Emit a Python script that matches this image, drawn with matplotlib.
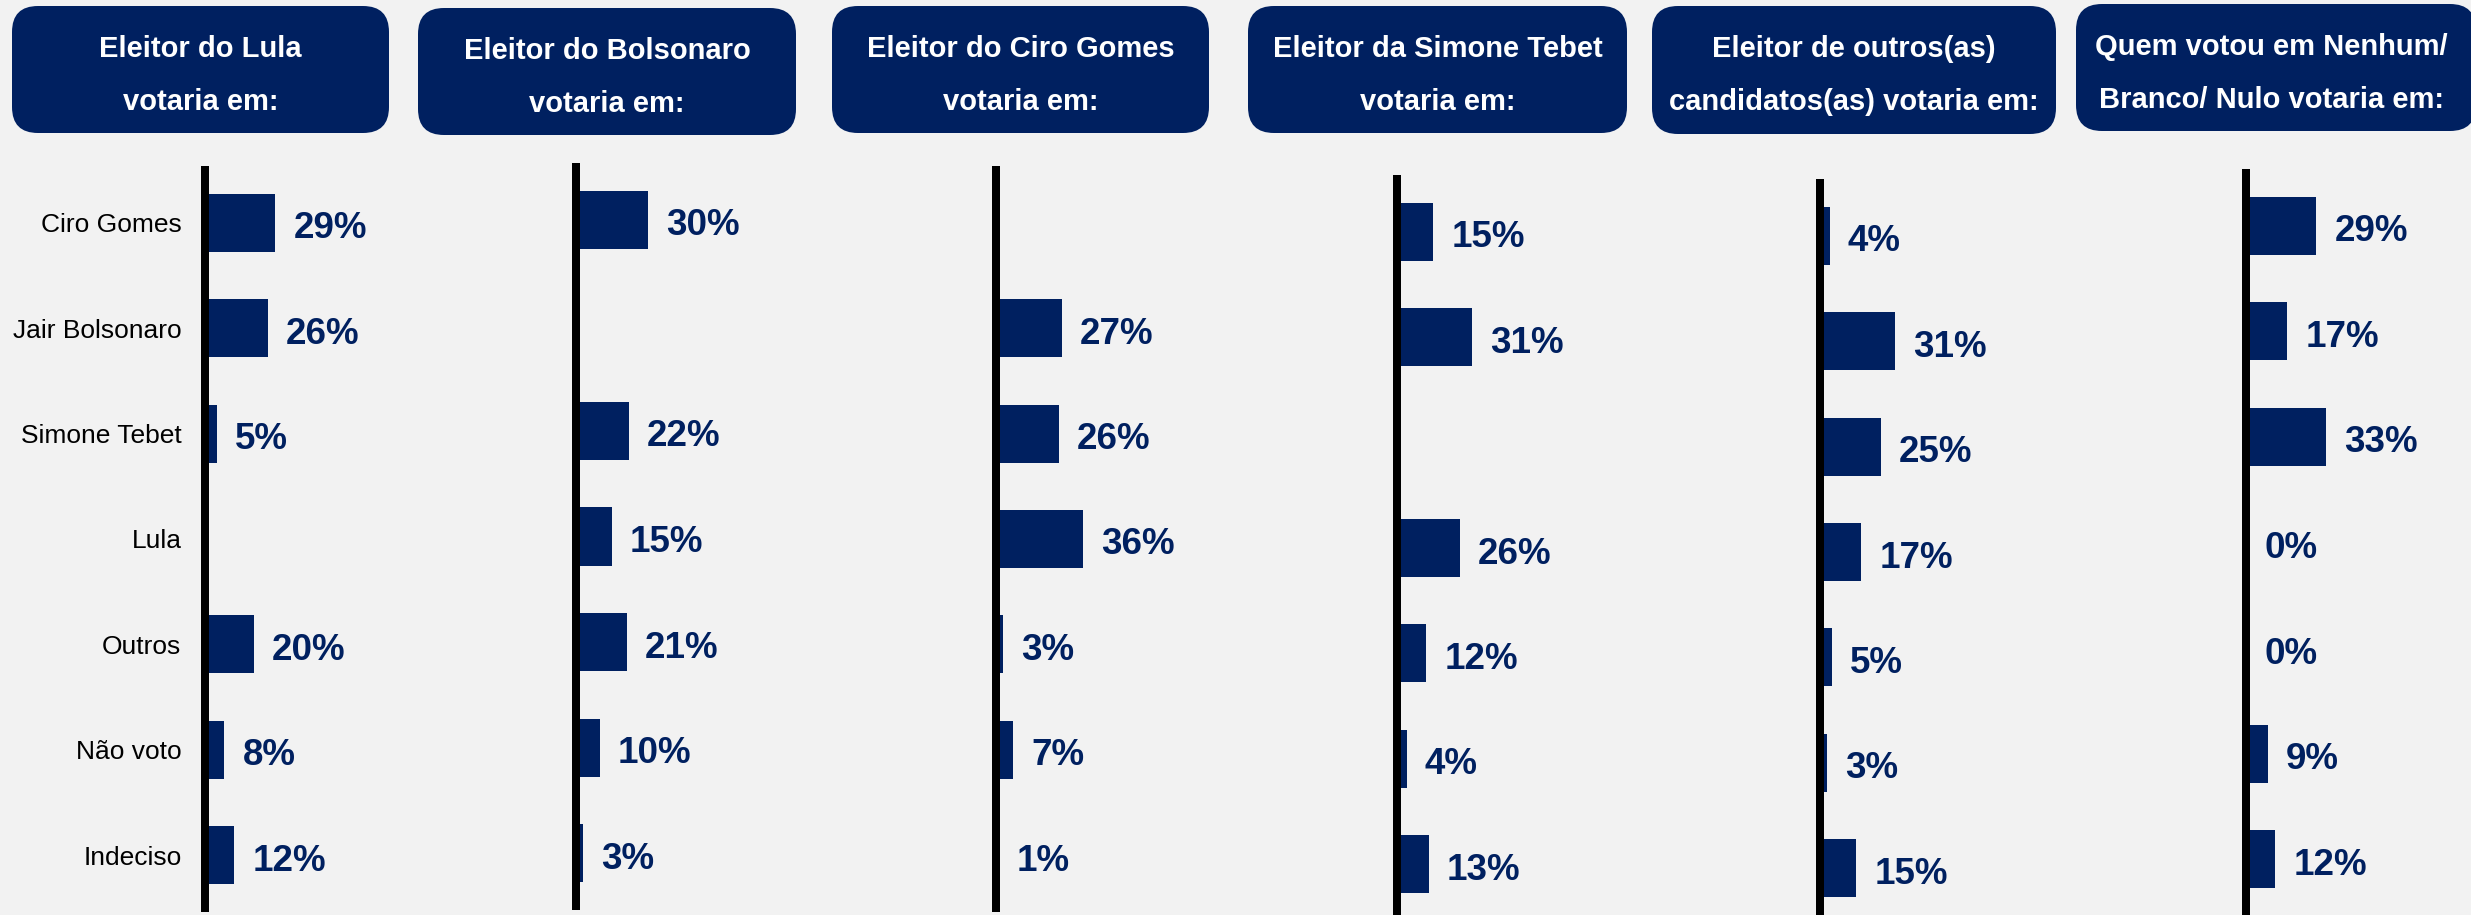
import matplotlib
matplotlib.use("Agg")
import matplotlib.pyplot as plt
import numpy as np
from matplotlib.patches import FancyBboxPatch

NAVY = "#002060"
BG = "#f2f2f2"
plt.rcParams["font.family"] = ["Liberation Sans", "DejaVu Sans"]

categories = ["Ciro Gomes", "Jair Bolsonaro", "Simone Tebet", "Lula",
              "Outros", "Não voto", "Indeciso"]

headers = [
    ("Eleitor do Lula", "votaria em:"),
    ("Eleitor do Bolsonaro", "votaria em:"),
    ("Eleitor do Ciro Gomes", "votaria em:"),
    ("Eleitor da Simone Tebet", "votaria em:"),
    ("Eleitor de outros(as)", "candidatos(as) votaria em:"),
    ("Quem votou em Nenhum/", "Branco/ Nulo votaria em:"),
]

# None = own candidate, no bar shown
lula_voter = [29, 26, 5, None, 20, 8, 12]
bolsonaro_voter = [30, None, 22, 15, 21, 10, 3]
ciro_voter = [None, 27, 26, 36, 3, 7, 1]
simone_voter = [15, 31, None, 26, 12, 4, 13]
outros_voter = [4, 31, 25, 17, 5, 3, 15]
nenhum_voter = [29, 17, 33, 0, 0, 9, 12]
series = [lula_voter, bolsonaro_voter, ciro_voter, simone_voter,
          outros_voter, nenhum_voter]

W, H = 2471, 915
PX_PER_PCT = 2.43
# layout in pixels: axis line x, axis top, axis bottom
axes_px = [(205, 170, 908), (575.5, 167, 906), (996, 170, 908),
           (1397, 179, 917), (1820, 183, 921), (2246, 173, 912)]
# header boxes: x0, x1, y0, y1
boxes_px = [(12, 389, 6, 133), (418, 796, 8, 135), (832, 1209, 6, 133),
            (1248, 1627, 6, 133), (1652, 2056, 6, 134), (2076, 2476, 4, 131)]


def panel(fig, i):
    x, top, bot = axes_px[i]
    width = 330
    ax = fig.add_axes([x / W, 1 - bot / H, width / W, (bot - top) / H])
    ax.set_facecolor("none")
    vals = series[i]
    ypos = np.arange(len(categories))
    for y, v in zip(ypos, vals):
        if v is None:
            continue
        ax.barh(y, v, height=0.55, color=NAVY, zorder=1)
        ax.annotate(f"{v}%", (v, y), xytext=(18, -6), textcoords="offset pixels",
                    ha="left", va="center", fontsize=26.5, fontweight="bold",
                    color=NAVY)
    ax.set_ylim(len(categories) - 0.5, -0.5)
    ax.set_xlim(0, width / PX_PER_PCT)
    for s in ["top", "right", "bottom"]:
        ax.spines[s].set_visible(False)
    ax.spines["left"].set_linewidth(8 * 0.72)
    ax.spines["left"].set_color("black")
    ax.spines["left"].set_zorder(3)
    ax.set_xticks([])
    ax.set_yticks(ypos)
    if i == 0:
        ax.set_yticklabels(categories, fontsize=19, color="black")
    else:
        ax.set_yticklabels([])
    ax.tick_params(axis="y", length=0, pad=17)


def header_layer(fig):
    ov = fig.add_axes([0, 0, 1, 1])
    ov.set_xlim(0, W)
    ov.set_ylim(H, 0)
    ov.axis("off")
    ov.set_facecolor("none")
    for (x0, x1, y0, y1), (l1, l2) in zip(boxes_px, headers):
        ov.add_patch(FancyBboxPatch((x0, y0), x1 - x0, y1 - y0,
                                    boxstyle="round,pad=0,rounding_size=26",
                                    facecolor=NAVY, edgecolor="none"))
        cx = (x0 + min(x1, W - 4)) / 2 if x1 > W else (x0 + x1) / 2
        ov.text(cx, y0 + 51, l1, ha="center", va="baseline", color="white",
                fontsize=21, fontweight="bold")
        ov.text(cx, y0 + 104, l2, ha="center", va="baseline", color="white",
                fontsize=21, fontweight="bold")


def main():
    fig = plt.figure(figsize=(W / 100, H / 100), dpi=100)
    fig.patch.set_facecolor(BG)
    for i in range(len(series)):
        panel(fig, i)
    header_layer(fig)
    fig.savefig("out.png", dpi=100, facecolor=BG)
    plt.close(fig)


if __name__ == "__main__":
    main()
